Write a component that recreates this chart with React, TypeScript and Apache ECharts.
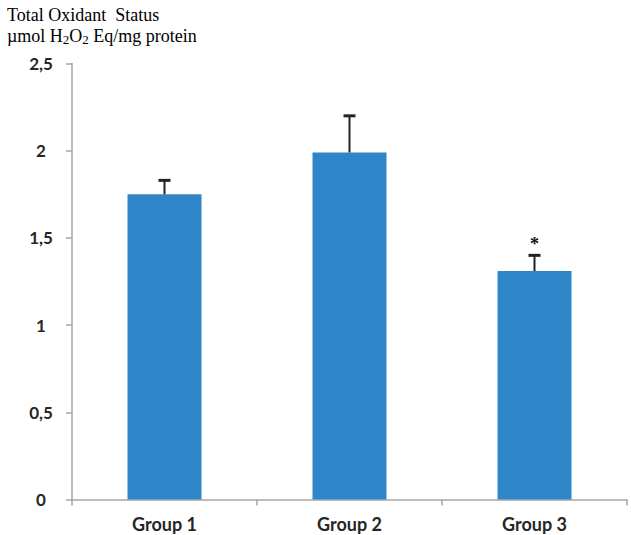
import React, { useEffect, useRef } from "react";
import * as echarts from "echarts";

// Total oxidant status per group (mean, upper SD) and significance marks
const groups = ["Group 1", "Group 2", "Group 3"];
const means = [1.75, 1.99, 1.31];
const upperSd = [0.08, 0.21, 0.09];
const significance = ["", "", "*"];
const yTicks = { min: 0, max: 2.5, step: 0.5 };

const BAR_COLOR = "#2E86C8";
const AXIS_COLOR = "#A6A6A6";
const LABEL_COLOR = "#262626";

export default function App() {
  const ref = useRef<HTMLDivElement>(null);

  useEffect(() => {
    document.body.style.margin = "0";
    if (!ref.current) return;
    const chart = echarts.init(ref.current, null, { renderer: "svg" });

    const errorData = groups.map((g, i) => [i, means[i] + upperSd[i], means[i], significance[i]]);

    chart.setOption({
      animation: false,
      backgroundColor: "#ffffff",
      title: {
        left: 7,
        top: 4,
        padding: 0,
        itemGap: 0,
        text: "{t|Total Oxidant  Status}\n{t|µmol H}{s|2}{t|O}{s|2}{t| Eq/mg protein}",
        textStyle: {
          fontWeight: "normal",
          rich: {
            t: { fontFamily: "Liberation Serif", fontSize: 18, fontWeight: "normal", color: "#000", lineHeight: 21 },
            s: { fontFamily: "Liberation Serif", fontSize: 13, fontWeight: "normal", color: "#000", lineHeight: 21, verticalAlign: "bottom", padding: [6, 0, 0, 0] },
          },
        },
      },
      grid: { left: 72, right: 4, top: 63.5, bottom: 35.5 },
      xAxis: {
        type: "category",
        data: groups,
        axisLine: { lineStyle: { color: AXIS_COLOR, width: 1.5 } },
        axisTick: { show: true, length: 6, lineStyle: { color: AXIS_COLOR, width: 1.5 } },
        axisLabel: {
          color: LABEL_COLOR,
          fontFamily: "Lato",
          fontWeight: "bold",
          fontSize: 18,
          margin: 15,
        },
      },
      yAxis: {
        type: "value",
        min: yTicks.min,
        max: yTicks.max,
        interval: yTicks.step,
        splitLine: { show: false },
        axisLine: { show: true, lineStyle: { color: AXIS_COLOR, width: 1.5 } },
        axisTick: { show: true, length: 6, lineStyle: { color: AXIS_COLOR, width: 1.5 } },
        axisLabel: {
          color: LABEL_COLOR,
          fontFamily: "Lato",
          fontWeight: "bold",
          fontSize: 17,
          align: "center",
          margin: 31,
          formatter: (v: number) => String(v).replace(".", ","),
        },
      },
      series: [
        {
          type: "bar",
          data: means,
          barWidth: "40%",
          itemStyle: { color: BAR_COLOR },
          z: 2,
        },
        {
          type: "custom",
          data: errorData,
          z: 3,
          renderItem: (params: any, api: any) => {
            const x = api.value(0);
            const top = api.coord([x, api.value(1)]);
            const base = api.coord([x, api.value(2)]);
            const sig = significance[params.dataIndex];
            const half = 6;
            return {
              type: "group",
              children: [
                {
                  type: "line",
                  shape: { x1: base[0], y1: base[1], x2: top[0], y2: top[1] },
                  style: { stroke: "#222", lineWidth: 2 },
                },
                {
                  type: "line",
                  shape: { x1: top[0] - half, y1: top[1], x2: top[0] + half, y2: top[1] },
                  style: { stroke: "#222", lineWidth: 3 },
                },
                {
                  type: "text",
                  x: top[0],
                  y: top[1] - 2,
                  style: {
                    text: sig,
                    textAlign: "center",
                    textVerticalAlign: "bottom",
                    fontFamily: "Liberation Serif",
                    fontWeight: "bold",
                    fontSize: 18,
                    fill: "#111",
                  },
                },
              ],
            };
          },
        },
      ],
    });

    return () => chart.dispose();
  }, []);

  return <div ref={ref} style={{ width: 631, height: 535 }} />;
}
